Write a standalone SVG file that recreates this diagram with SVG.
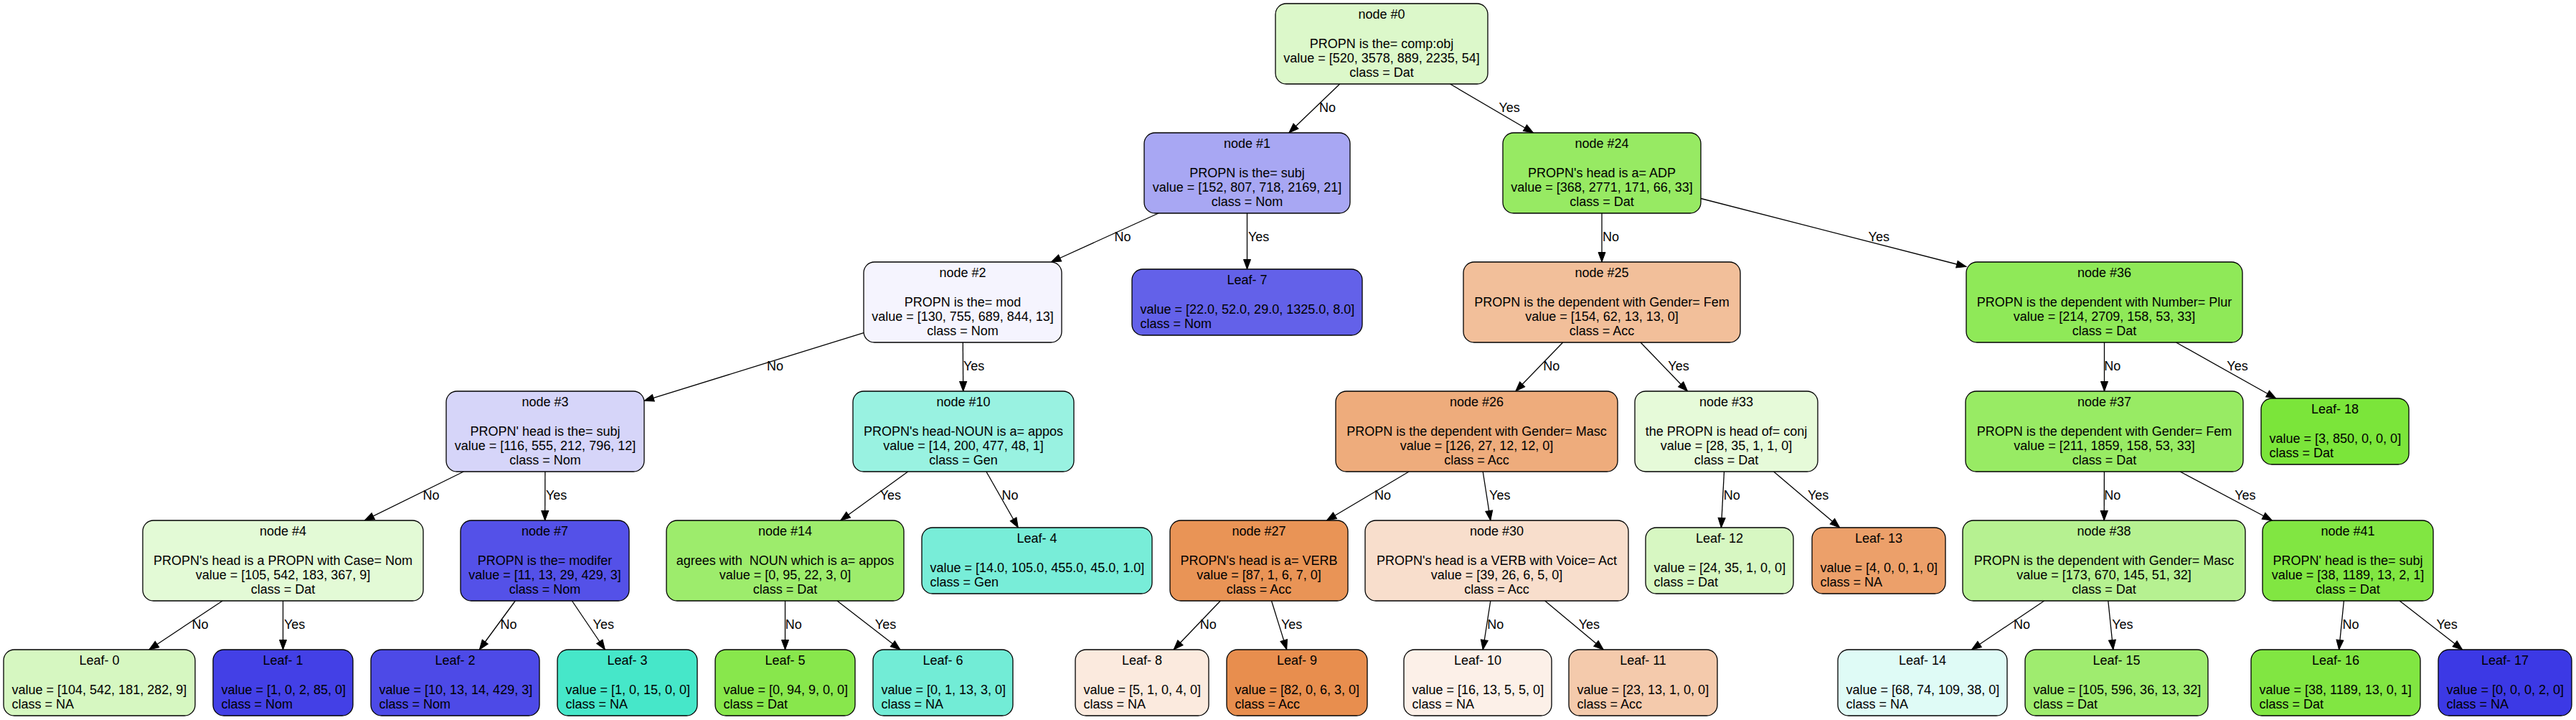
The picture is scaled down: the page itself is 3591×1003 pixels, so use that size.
<svg xmlns="http://www.w3.org/2000/svg" width="3591" height="1003" viewBox="0 0 3591 1003">
<style>
text{font-family:"Liberation Sans",Arial,Helvetica,sans-serif;font-size:18px;fill:#000}
.c{text-anchor:middle}
.node rect{stroke:#000;stroke-width:1.3}
.edges line{stroke:#000;stroke-width:1.3;marker-end:url(#arr)}
.pre{white-space:pre}
</style>
<defs>
<marker id="arr" markerUnits="userSpaceOnUse" markerWidth="18" markerHeight="14" refX="13.5" refY="5" orient="auto" viewBox="-1 -1 18 14">
<path d="M0,0 L13.5,5 L0,10 z" fill="#000" stroke="#000" stroke-width="1"/>
</marker>
</defs>
<rect width="3591" height="1003" fill="#fff"/>
<g id="edges" class="edges">
<line x1="1867.7" y1="117" x2="1796.8" y2="185"/>
<line x1="2021.5" y1="117" x2="2137.5" y2="185"/>
<line x1="1615.1" y1="297" x2="1465.4" y2="365"/>
<line x1="1738.5" y1="297" x2="1738.5" y2="375"/>
<line x1="2233" y1="297" x2="2233" y2="365"/>
<line x1="2371" y1="276.5" x2="2741" y2="371.5"/>
<line x1="1204" y1="463.7" x2="898" y2="558.3"/>
<line x1="1342.3" y1="477" x2="1342.7" y2="545"/>
<line x1="2178.7" y1="477" x2="2112.8" y2="545"/>
<line x1="2287" y1="477" x2="2352.5" y2="545"/>
<line x1="2933.5" y1="477" x2="2933.5" y2="545"/>
<line x1="3033.5" y1="477" x2="3172.8" y2="555"/>
<line x1="646.3" y1="657" x2="508.2" y2="725"/>
<line x1="759.9" y1="657" x2="759.7" y2="725"/>
<line x1="1265.7" y1="657" x2="1171.8" y2="725"/>
<line x1="1374.9" y1="657" x2="1419.3" y2="735"/>
<line x1="1964.1" y1="657" x2="1849.4" y2="725"/>
<line x1="2067.2" y1="657" x2="2077.8" y2="725"/>
<line x1="2403.5" y1="657" x2="2399.4" y2="735"/>
<line x1="2472.6" y1="657" x2="2564.7" y2="735"/>
<line x1="2933.4" y1="657" x2="2933.2" y2="725"/>
<line x1="3039.1" y1="657" x2="3167.4" y2="725"/>
<line x1="310.2" y1="837" x2="207.8" y2="905"/>
<line x1="394.5" y1="837" x2="394.5" y2="905"/>
<line x1="718.3" y1="837" x2="668.3" y2="905"/>
<line x1="797.4" y1="837" x2="843.4" y2="905"/>
<line x1="1094.5" y1="837" x2="1094.5" y2="905"/>
<line x1="1167" y1="837" x2="1255" y2="905"/>
<line x1="1701.3" y1="837" x2="1636.1" y2="905"/>
<line x1="1772.5" y1="837" x2="1793.7" y2="905"/>
<line x1="2077.8" y1="837" x2="2067.2" y2="905"/>
<line x1="2153.7" y1="837" x2="2235.3" y2="905"/>
<line x1="2849.7" y1="837" x2="2748.5" y2="905"/>
<line x1="2938.8" y1="837" x2="2945.8" y2="905"/>
<line x1="3267.4" y1="837" x2="3260.6" y2="905"/>
<line x1="3345.1" y1="837" x2="3432.7" y2="905"/>
<text x="1839" y="155.5">No</text>
<text x="2089.5" y="155.5">Yes</text>
<text x="1553.4" y="335.5">No</text>
<text x="1740" y="335.5">Yes</text>
<text x="2234" y="335.5">No</text>
<text x="2604.6" y="335.5">Yes</text>
<text x="1069" y="515.5">No</text>
<text x="1343" y="515.5">Yes</text>
<text x="2151.3" y="515.5">No</text>
<text x="2325.3" y="515.5">Yes</text>
<text x="2933.3" y="515.5">No</text>
<text x="3104.3" y="515.5">Yes</text>
<text x="589.6" y="695.5">No</text>
<text x="761" y="695.5">Yes</text>
<text x="1226.7" y="695.5">Yes</text>
<text x="1396.6" y="695.5">No</text>
<text x="1916" y="695.5">No</text>
<text x="2076.1" y="695.5">Yes</text>
<text x="2402.8" y="695.5">No</text>
<text x="2519.9" y="695.5">Yes</text>
<text x="2933.3" y="695.5">No</text>
<text x="3115.2" y="695.5">Yes</text>
<text x="267.5" y="875.5">No</text>
<text x="396" y="875.5">Yes</text>
<text x="697.5" y="875.5">No</text>
<text x="826.6" y="875.5">Yes</text>
<text x="1094.7" y="875.5">No</text>
<text x="1219.8" y="875.5">Yes</text>
<text x="1672.8" y="875.5">No</text>
<text x="1786" y="875.5">Yes</text>
<text x="2073.2" y="875.5">No</text>
<text x="2200.7" y="875.5">Yes</text>
<text x="2807" y="875.5">No</text>
<text x="2944.2" y="875.5">Yes</text>
<text x="3265.6" y="875.5">No</text>
<text x="3396.5" y="875.5">Yes</text>
</g>
<g id="node0" class="node"><rect x="1778" y="5" width="296" height="112" rx="15" fill="#dcf8ca"/>
<text class="c" x="1926" y="25.7">node #0</text><text class="c" x="1926" y="66.5">PROPN is the= comp:obj</text><text class="c" x="1926" y="86.8">value = [520, 3578, 889, 2235, 54]</text><text class="c" x="1926" y="107">class = Dat</text></g>
<g id="node1" class="node"><rect x="1595" y="185" width="287" height="112" rx="15" fill="#a8a7f3"/>
<text class="c" x="1738.5" y="205.7">node #1</text><text class="c" x="1738.5" y="246.5">PROPN is the= subj</text><text class="c" x="1738.5" y="266.8">value = [152, 807, 718, 2169, 21]</text><text class="c" x="1738.5" y="287">class = Nom</text></g>
<g id="node24" class="node"><rect x="2095" y="185" width="276" height="112" rx="15" fill="#97ea63"/>
<text class="c" x="2233" y="205.7">node #24</text><text class="c" x="2233" y="246.5">PROPN's head is a= ADP</text><text class="c" x="2233" y="266.8">value = [368, 2771, 171, 66, 33]</text><text class="c" x="2233" y="287">class = Dat</text></g>
<g id="node2" class="node"><rect x="1204" y="365" width="276" height="112" rx="15" fill="#f5f4fe"/>
<text class="c" x="1342" y="385.7">node #2</text><text class="c" x="1342" y="426.5">PROPN is the= mod</text><text class="c" x="1342" y="446.8">value = [130, 755, 689, 844, 13]</text><text class="c" x="1342" y="467">class = Nom</text></g>
<g id="leaf7" class="node"><rect x="1578" y="375" width="321" height="92" rx="15" fill="#6361e9"/>
<text class="c" x="1738.5" y="396">Leaf- 7</text><text x="1589.5" y="436.5">value = [22.0, 52.0, 29.0, 1325.0, 8.0]</text><text x="1589.5" y="456.8">class = Nom</text></g>
<g id="node25" class="node"><rect x="2040" y="365" width="386" height="112" rx="15" fill="#f2bf9a"/>
<text class="c" x="2233" y="385.7">node #25</text><text class="c" x="2233" y="426.5">PROPN is the dependent with Gender= Fem</text><text class="c" x="2233" y="446.8">value = [154, 62, 13, 13, 0]</text><text class="c" x="2233" y="467">class = Acc</text></g>
<g id="node36" class="node"><rect x="2741" y="365" width="385" height="112" rx="15" fill="#8fe958"/>
<text class="c" x="2933.5" y="385.7">node #36</text><text class="c" x="2933.5" y="426.5">PROPN is the dependent with Number= Plur</text><text class="c" x="2933.5" y="446.8">value = [214, 2709, 158, 53, 33]</text><text class="c" x="2933.5" y="467">class = Dat</text></g>
<g id="node3" class="node"><rect x="622" y="545" width="276" height="112" rx="15" fill="#d6d5f9"/>
<text class="c" x="760" y="565.7">node #3</text><text class="c" x="760" y="606.5">PROPN' head is the= subj</text><text class="c" x="760" y="626.8">value = [116, 555, 212, 796, 12]</text><text class="c" x="760" y="647">class = Nom</text></g>
<g id="node10" class="node"><rect x="1189" y="545" width="308" height="112" rx="15" fill="#99f2e1"/>
<text class="c" x="1343" y="565.7">node #10</text><text class="c" x="1343" y="606.5">PROPN's head-NOUN is a= appos</text><text class="c" x="1343" y="626.8">value = [14, 200, 477, 48, 1]</text><text class="c" x="1343" y="647">class = Gen</text></g>
<g id="node26" class="node"><rect x="1862" y="545" width="393" height="112" rx="15" fill="#eeac7c"/>
<text class="c" x="2058.5" y="565.7">node #26</text><text class="c" x="2058.5" y="606.5">PROPN is the dependent with Gender= Masc</text><text class="c" x="2058.5" y="626.8">value = [126, 27, 12, 12, 0]</text><text class="c" x="2058.5" y="647">class = Acc</text></g>
<g id="node33" class="node"><rect x="2279" y="545" width="255" height="112" rx="15" fill="#e6fad9"/>
<text class="c" x="2406.5" y="565.7">node #33</text><text class="c" x="2406.5" y="606.5">the PROPN is head of= conj</text><text class="c" x="2406.5" y="626.8">value = [28, 35, 1, 1, 0]</text><text class="c" x="2406.5" y="647">class = Dat</text></g>
<g id="node37" class="node"><rect x="2740" y="545" width="387" height="112" rx="15" fill="#98eb64"/>
<text class="c" x="2933.5" y="565.7">node #37</text><text class="c" x="2933.5" y="606.5">PROPN is the dependent with Gender= Fem</text><text class="c" x="2933.5" y="626.8">value = [211, 1859, 158, 53, 33]</text><text class="c" x="2933.5" y="647">class = Dat</text></g>
<g id="leaf18" class="node"><rect x="3152" y="555" width="206" height="92" rx="15" fill="#7be53a"/>
<text class="c" x="3255" y="576">Leaf- 18</text><text x="3163.5" y="616.5">value = [3, 850, 0, 0, 0]</text><text x="3163.5" y="636.8">class = Dat</text></g>
<g id="node4" class="node"><rect x="199" y="725" width="391" height="112" rx="15" fill="#e3fad6"/>
<text class="c" x="394.5" y="745.7">node #4</text><text class="c" x="394.5" y="786.5">PROPN's head is a PROPN with Case= Nom</text><text class="c" x="394.5" y="806.8">value = [105, 542, 183, 367, 9]</text><text class="c" x="394.5" y="827">class = Dat</text></g>
<g id="node7" class="node"><rect x="642" y="725" width="235" height="112" rx="15" fill="#5451e8"/>
<text class="c" x="759.5" y="745.7">node #7</text><text class="c" x="759.5" y="786.5">PROPN is the= modifer</text><text class="c" x="759.5" y="806.8">value = [11, 13, 29, 429, 3]</text><text class="c" x="759.5" y="827">class = Nom</text></g>
<g id="node14" class="node"><rect x="929" y="725" width="331" height="112" rx="15" fill="#9dec6c"/>
<text class="c" x="1094.5" y="745.7">node #14</text><text class="c pre" x="1094.5" y="786.5">agrees with  NOUN which is a= appos</text><text class="c" x="1094.5" y="806.8">value = [0, 95, 22, 3, 0]</text><text class="c" x="1094.5" y="827">class = Dat</text></g>
<g id="leaf4" class="node"><rect x="1285" y="735" width="321" height="92" rx="15" fill="#78edd8"/>
<text class="c" x="1445.5" y="756">Leaf- 4</text><text x="1296.5" y="796.5">value = [14.0, 105.0, 455.0, 45.0, 1.0]</text><text x="1296.5" y="816.8">class = Gen</text></g>
<g id="node27" class="node"><rect x="1631" y="725" width="248" height="112" rx="15" fill="#e99456"/>
<text class="c" x="1755" y="745.7">node #27</text><text class="c" x="1755" y="786.5">PROPN's head is a= VERB</text><text class="c" x="1755" y="806.8">value = [87, 1, 6, 7, 0]</text><text class="c" x="1755" y="827">class = Acc</text></g>
<g id="node30" class="node"><rect x="1903" y="725" width="367" height="112" rx="15" fill="#f8decc"/>
<text class="c" x="2086.5" y="745.7">node #30</text><text class="c" x="2086.5" y="786.5">PROPN's head is a VERB with Voice= Act</text><text class="c" x="2086.5" y="806.8">value = [39, 26, 6, 5, 0]</text><text class="c" x="2086.5" y="827">class = Acc</text></g>
<g id="leaf12" class="node"><rect x="2294" y="735" width="206" height="92" rx="15" fill="#d7f7c2"/>
<text class="c" x="2397" y="756">Leaf- 12</text><text x="2305.5" y="796.5">value = [24, 35, 1, 0, 0]</text><text x="2305.5" y="816.8">class = Dat</text></g>
<g id="leaf13" class="node"><rect x="2526" y="735" width="186" height="92" rx="15" fill="#eca06a"/>
<text class="c" x="2619" y="756">Leaf- 13</text><text x="2537.5" y="796.5">value = [4, 0, 0, 1, 0]</text><text x="2537.5" y="816.8">class = NA</text></g>
<g id="node38" class="node"><rect x="2736" y="725" width="394" height="112" rx="15" fill="#b6f191"/>
<text class="c" x="2933" y="745.7">node #38</text><text class="c" x="2933" y="786.5">PROPN is the dependent with Gender= Masc</text><text class="c" x="2933" y="806.8">value = [173, 670, 145, 51, 32]</text><text class="c" x="2933" y="827">class = Dat</text></g>
<g id="node41" class="node"><rect x="3154" y="725" width="238" height="112" rx="15" fill="#81e642"/>
<text class="c" x="3273" y="745.7">node #41</text><text class="c" x="3273" y="786.5">PROPN' head is the= subj</text><text class="c" x="3273" y="806.8">value = [38, 1189, 13, 2, 1]</text><text class="c" x="3273" y="827">class = Dat</text></g>
<g id="leaf0" class="node"><rect x="5" y="905" width="267" height="92" rx="15" fill="#d6f7c1"/>
<text class="c" x="138.5" y="926">Leaf- 0</text><text x="16.5" y="966.5">value = [104, 542, 181, 282, 9]</text><text x="16.5" y="986.8">class = NA</text></g>
<g id="leaf1" class="node"><rect x="297" y="905" width="195" height="92" rx="15" fill="#4340e6"/>
<text class="c" x="394.5" y="926">Leaf- 1</text><text x="308.5" y="966.5">value = [1, 0, 2, 85, 0]</text><text x="308.5" y="986.8">class = Nom</text></g>
<g id="leaf2" class="node"><rect x="517" y="905" width="235" height="92" rx="15" fill="#4d4ae7"/>
<text class="c" x="634.5" y="926">Leaf- 2</text><text x="528.5" y="966.5">value = [10, 13, 14, 429, 3]</text><text x="528.5" y="986.8">class = Nom</text></g>
<g id="leaf3" class="node"><rect x="777" y="905" width="195" height="92" rx="15" fill="#46e7c9"/>
<text class="c" x="874.5" y="926">Leaf- 3</text><text x="788.5" y="966.5">value = [1, 0, 15, 0, 0]</text><text x="788.5" y="986.8">class = NA</text></g>
<g id="leaf5" class="node"><rect x="997" y="905" width="195" height="92" rx="15" fill="#88e74c"/>
<text class="c" x="1094.5" y="926">Leaf- 5</text><text x="1008.5" y="966.5">value = [0, 94, 9, 0, 0]</text><text x="1008.5" y="986.8">class = Dat</text></g>
<g id="leaf6" class="node"><rect x="1217" y="905" width="195" height="92" rx="15" fill="#72ecd6"/>
<text class="c" x="1314.5" y="926">Leaf- 6</text><text x="1228.5" y="966.5">value = [0, 1, 13, 3, 0]</text><text x="1228.5" y="986.8">class = NA</text></g>
<g id="leaf8" class="node"><rect x="1499" y="905" width="186" height="92" rx="15" fill="#fbeade"/>
<text class="c" x="1592" y="926">Leaf- 8</text><text x="1510.5" y="966.5">value = [5, 1, 0, 4, 0]</text><text x="1510.5" y="986.8">class = NA</text></g>
<g id="leaf9" class="node"><rect x="1710" y="905" width="196" height="92" rx="15" fill="#e88e4e"/>
<text class="c" x="1808" y="926">Leaf- 9</text><text x="1721.5" y="966.5">value = [82, 0, 6, 3, 0]</text><text x="1721.5" y="986.8">class = Acc</text></g>
<g id="leaf10" class="node"><rect x="1957" y="905" width="206" height="92" rx="15" fill="#fcf0e8"/>
<text class="c" x="2060" y="926">Leaf- 10</text><text x="1968.5" y="966.5">value = [16, 13, 5, 5, 0]</text><text x="1968.5" y="986.8">class = NA</text></g>
<g id="leaf11" class="node"><rect x="2187" y="905" width="207" height="92" rx="15" fill="#f4caac"/>
<text class="c" x="2290.5" y="926">Leaf- 11</text><text x="2198.5" y="966.5">value = [23, 13, 1, 0, 0]</text><text x="2198.5" y="986.8">class = Acc</text></g>
<g id="leaf14" class="node"><rect x="2562" y="905" width="236" height="92" rx="15" fill="#dffbf6"/>
<text class="c" x="2680" y="926">Leaf- 14</text><text x="2573.5" y="966.5">value = [68, 74, 109, 38, 0]</text><text x="2573.5" y="986.8">class = NA</text></g>
<g id="leaf15" class="node"><rect x="2823" y="905" width="255" height="92" rx="15" fill="#9fec6f"/>
<text class="c" x="2950.5" y="926">Leaf- 15</text><text x="2834.5" y="966.5">value = [105, 596, 36, 13, 32]</text><text x="2834.5" y="986.8">class = Dat</text></g>
<g id="leaf16" class="node"><rect x="3138" y="905" width="236" height="92" rx="15" fill="#81e642"/>
<text class="c" x="3256" y="926">Leaf- 16</text><text x="3149.5" y="966.5">value = [38, 1189, 13, 0, 1]</text><text x="3149.5" y="986.8">class = Dat</text></g>
<g id="leaf17" class="node"><rect x="3399" y="905" width="186" height="92" rx="15" fill="#3c39e5"/>
<text class="c" x="3492" y="926">Leaf- 17</text><text x="3410.5" y="966.5">value = [0, 0, 0, 2, 0]</text><text x="3410.5" y="986.8">class = NA</text></g>
</svg>
